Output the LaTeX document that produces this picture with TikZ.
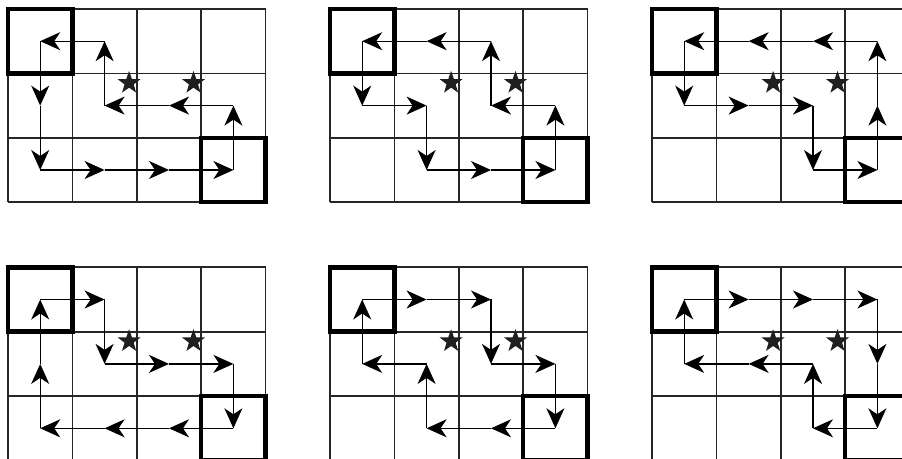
\documentclass[tikz,border=0pt]{standalone}
\usetikzlibrary{arrows.meta,shapes.geometric}
\begin{document}
\begin{tikzpicture}[x=0.75pt,y=-0.75pt,
  gridline/.style={line width=1.2pt, draw=black!85},
  thickbox/.style={line width=3.4pt, draw=black},
  arr/.style={line width=1pt, draw=black, -{Stealth[length=15pt,width=13.5pt,inset=4.5pt]}},
  starmark/.style={star, star points=5, star point ratio=2.5, minimum size=18pt, inner sep=0pt, fill=black!88, draw=none}]
\useasboundingbox (0,0) rectangle (902,459);
\clip (0,0) rectangle (902,459);
\def\s{64.4}
\foreach \g/\ox/\oy in {1/8/9,2/330/9,3/652/9,4/8/267.3,5/330/267.3,6/652/267.3}{
  \foreach \i in {0,...,4} \draw[gridline] (\ox+\i*\s,\oy) -- (\ox+\i*\s,\oy+3*\s);
  \foreach \j in {0,...,3} \draw[gridline] (\ox,\oy+\j*\s) -- (\ox+4*\s,\oy+\j*\s);
  \draw[thickbox] (\ox,\oy) rectangle (\ox+\s,\oy+\s);
  \draw[thickbox] (\ox+3*\s,\oy+2*\s) rectangle (\ox+4*\s,\oy+3*\s);
  \foreach \c in {0,...,3} \foreach \r in {0,1,2} \coordinate (g\g-\c-\r) at (\ox+\c*\s+0.5*\s, \oy+\r*\s+0.5*\s);
  \node[starmark] (g\g-sa) at (\ox+2*\s-7.7,\oy+\s+9.5) {};
  \node[starmark] (g\g-sb) at (\ox+3*\s-7.7,\oy+\s+9.5) {};
}
% grids 1 and 4 (4 is the reverse of 1)
\foreach \a/\b in {3-2/3-1, 3-1/2-1, 2-1/1-1, 1-1/1-0, 1-0/0-0, 0-0/0-1, 0-1/0-2, 0-2/1-2, 1-2/2-2, 2-2/3-2}{
  \draw[arr] (g1-\a) -- (g1-\b);
  \draw[arr] (g4-\b) -- (g4-\a);
}
% grids 2 and 5
\foreach \a/\b in {3-2/3-1, 3-1/2-1, 2-1/2-0, 2-0/1-0, 1-0/0-0, 0-0/0-1, 0-1/1-1, 1-1/1-2, 1-2/2-2, 2-2/3-2}{
  \draw[arr] (g2-\a) -- (g2-\b);
  \draw[arr] (g5-\b) -- (g5-\a);
}
% grids 3 and 6
\foreach \a/\b in {3-2/3-1, 3-1/3-0, 3-0/2-0, 2-0/1-0, 1-0/0-0, 0-0/0-1, 0-1/1-1, 1-1/2-1, 2-1/2-2, 2-2/3-2}{
  \draw[arr] (g3-\a) -- (g3-\b);
  \draw[arr] (g6-\b) -- (g6-\a);
}
\end{tikzpicture}
\end{document}
